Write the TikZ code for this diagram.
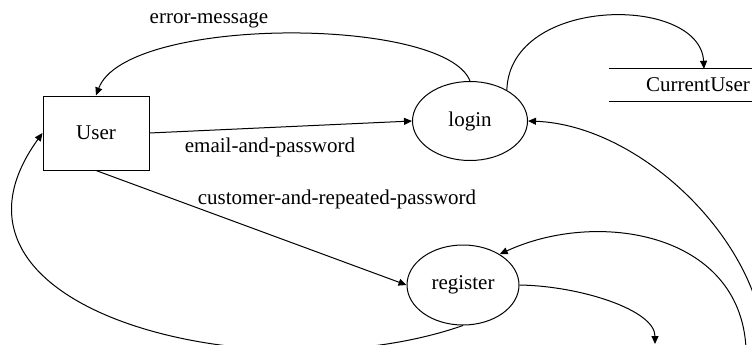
\documentclass[tikz,border=0pt]{standalone}
\usepackage{fontspec}
\setmainfont{Liberation Serif}
\usetikzlibrary{positioning, shapes.geometric, arrows.meta, calc}

\begin{document}
\begin{tikzpicture}[
    x=1pt, y=-1pt,
    font=\fontsize{21}{25}\selectfont,
    entity/.style={rectangle, draw, line width=1pt, minimum width=106pt, minimum height=74pt},
    process/.style={ellipse, draw, line width=1pt, minimum width=115pt, minimum height=79pt},
    store/.style={rectangle, minimum width=178pt, minimum height=32pt},
    flow/.style={-{Triangle[length=8pt, width=7pt]}, line width=1pt},
    lbl/.style={inner sep=0pt}
]
\useasboundingbox (0,0) rectangle (752,345);

% Main nodes
\node[entity] (user) at (96,133) {User};
\node[process] (login) at (470,121) {login};
\node[process, minimum width=112pt, minimum height=80pt] (register) at (463,285) {register};
\node[store] (current) at (698,85) {CurrentUser};
\draw[line width=1pt] (current.north west) -- (current.north east);
\draw[line width=1pt] (current.south west) -- (current.south east);

% Flows leaving the picture
\coordinate (regout) at (655,344);
\coordinate (regin) at (746,348);
\coordinate (loginin) at (765,348);

% Labels
\node[lbl] (errlbl) at (209,20) {error-message};
\node[lbl] (emaillbl) at (270,147) {email-and-password};
\node[lbl] (custlbl) at (337,199) {customer-and-repeated-password};

% Arrows
\draw[flow] (login.north) .. controls +(-25,-65) and +(30,-80) .. (user.north);
\draw[flow] (login.40) .. controls +(3,-95) and +(-4,-74) .. ($(current.north)+(6,0)$);
\draw[flow] (user.east) -- (login.west);
\draw[flow] (user.south) -- (register.west);
\draw[flow] (register.south) .. controls +(-200,70) and +(-130,180) .. (user.west);
\draw[flow] (register.east) .. controls +(61,1) and +(0,-34) .. (regout);
\draw[flow] (regin) .. controls +(-6,-116) and +(97,-45) .. (register.40);
\draw[flow] (loginin) .. controls +(-5,-108) and +(112,4) .. (login.east);

\end{tikzpicture}
\end{document}
